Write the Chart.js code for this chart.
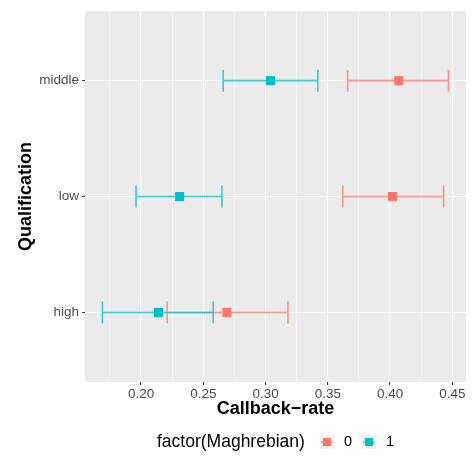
<!DOCTYPE html>
<html>
<head>
<meta charset="utf-8">
<script src="https://cdn.jsdelivr.net/npm/chart.js@4.4.0/dist/chart.umd.min.js"></script>
<style>
  html, body { margin: 0; padding: 0; background: #fff; }
  #wrap { width: 474px; height: 457px; }
</style>
</head>
<body>
<div id="wrap"><canvas id="chart"></canvas></div>
<script>
// callback rates by qualification, with confidence bounds
var qualifications = ['high', 'low', 'middle'];
var groups = ['0', '1'];
var rate0 = [0.269, 0.402, 0.407];
var lower0 = [0.221, 0.362, 0.366];
var upper0 = [0.318, 0.443, 0.447];
var rate1 = [0.214, 0.231, 0.304];
var lower1 = [0.169, 0.196, 0.266];
var upper1 = [0.258, 0.265, 0.342];
var xTicks = [0.175, 0.2, 0.225, 0.25, 0.275, 0.3, 0.325, 0.35, 0.375, 0.4, 0.425, 0.45];
var xLabels = [0.2, 0.25, 0.3, 0.35, 0.4, 0.45];

var red = '#F8766D';
var cyan = '#00BFC4';
var fontFam = '"Liberation Sans", Arial, sans-serif';

function points(rates, lo, hi) {
	var out = [];
	for (var i = 0; i < rates.length; i++) {
		out.push({ x: rates[i], y: i + 1, lo: lo[i], hi: hi[i] });
	}
	return out;
}

function isMajor(v) {
	for (var i = 0; i < xLabels.length; i++) {
		if (Math.abs(xLabels[i] - v) < 1e-6) return true;
	}
	return false;
}

// grey panel behind the grid
var panelBg = {
	id: 'panelBg',
	beforeDraw: function (chart) {
		var a = chart.chartArea;
		var ctx = chart.ctx;
		ctx.save();
		ctx.fillStyle = '#EBEBEB';
		ctx.fillRect(a.left, a.top, a.right - a.left, a.bottom - a.top);
		ctx.restore();
	}
};

// horizontal error bars with end caps
var errorBars = {
	id: 'errorBars',
	beforeDatasetsDraw: function (chart) {
		var ctx = chart.ctx;
		var xs = chart.scales.x, ys = chart.scales.y;
		ctx.save();
		chart.data.datasets.forEach(function (ds) {
			ctx.strokeStyle = ds.barColor;
			ctx.lineWidth = 1.6;
			ds.data.forEach(function (p) {
				var y = ys.getPixelForValue(p.y);
				var x1 = xs.getPixelForValue(p.lo);
				var x2 = xs.getPixelForValue(p.hi);
				ctx.beginPath();
				ctx.moveTo(x1, y); ctx.lineTo(x2, y);
				ctx.moveTo(x1, y - 11); ctx.lineTo(x1, y + 11);
				ctx.moveTo(x2, y - 11); ctx.lineTo(x2, y + 11);
				ctx.stroke();
			});
		});
		ctx.restore();
	}
};

// legend row under the x axis
var bottomLegend = {
	id: 'bottomLegend',
	afterDraw: function (chart) {
		var ctx = chart.ctx;
		var yMid = 442;
		ctx.save();
		ctx.font = '17.5px ' + fontFam;
		ctx.textBaseline = 'middle';
		ctx.fillStyle = '#000';
		ctx.fillText('factor(Maghrebian)', 157, yMid);
		var keyX = [320, 362];
		chart.data.datasets.forEach(function (ds, i) {
			var kx = keyX[i];
			ctx.fillStyle = '#F2F2F2';
			ctx.fillRect(kx, yMid - 7, 14, 14);
			ctx.strokeStyle = ds.barColor;
			ctx.lineWidth = 1.4;
			ctx.beginPath();
			ctx.moveTo(kx + 1, yMid); ctx.lineTo(kx + 13, yMid);
			ctx.stroke();
			ctx.fillStyle = ds.pointBackgroundColor;
			ctx.fillRect(kx + 3, yMid - 4, 8, 8);
			ctx.fillStyle = '#000';
			ctx.font = '14.5px ' + fontFam;
			ctx.fillText(groups[i], kx + 24, yMid);
		});
		ctx.restore();
	}
};

var ctx = document.getElementById('chart').getContext('2d');
var chart = new Chart(ctx, {
	type: 'scatter',
	data: {
		datasets: [{
			label: groups[0],
			data: points(rate0, lower0, upper0),
			pointStyle: 'rect',
			pointRadius: 6.4,
			pointHoverRadius: 6.4,
			pointBackgroundColor: red,
			pointBorderWidth: 0,
			barColor: 'rgba(248,118,109,0.75)'
		}, {
			label: groups[1],
			data: points(rate1, lower1, upper1),
			pointStyle: 'rect',
			pointRadius: 6.4,
			pointHoverRadius: 6.4,
			pointBackgroundColor: cyan,
			pointBorderWidth: 0,
			barColor: 'rgba(0,191,196,0.75)'
		}]
	},
	options: {
		responsive: true,
		maintainAspectRatio: false,
		animation: false,
		events: [],
		layout: { padding: { top: 7, right: 8, left: 0, bottom: 31 } },
		plugins: {
			legend: { display: false },
			tooltip: { enabled: false }
		},
		scales: {
			x: {
				type: 'linear',
				min: 0.155,
				max: 0.461,
				afterBuildTicks: function (scale) {
					scale.ticks = xTicks.map(function (v) { return { value: v }; });
				},
				afterFit: function (scale) { scale.height = 44; },
				border: { display: false },
				grid: {
					color: '#FFFFFF',
					lineWidth: function (c) { return isMajor(c.tick.value) ? 1.1 : 0.55; },
					tickColor: function (c) { return isMajor(c.tick.value) ? '#333333' : 'rgba(0,0,0,0)'; },
					tickLength: 3,
					tickWidth: 1
				},
				ticks: {
					autoSkip: false,
					maxRotation: 0,
					padding: 1,
					color: '#4D4D4D',
					font: { family: fontFam, size: 13.5 },
					callback: function (v) { return isMajor(v) ? v.toFixed(2) : ''; }
				},
				title: {
					display: true,
					text: 'Callback\u2212rate',
					color: '#000',
					padding: { top: 0, bottom: 6 },
					font: { family: fontFam, size: 18, weight: 'bold' }
				}
			},
			y: {
				type: 'linear',
				min: 0.4,
				max: 3.6,
				afterBuildTicks: function (scale) {
					scale.ticks = qualifications.map(function (q, i) { return { value: i + 1 }; });
				},
				afterFit: function (scale) { scale.width = 85; },
				border: { display: false },
				grid: {
					color: '#FFFFFF',
					lineWidth: 1.1,
					tickColor: '#333333',
					tickLength: 3,
					tickWidth: 1
				},
				ticks: {
					autoSkip: false,
					padding: 3,
					color: '#4D4D4D',
					font: { family: fontFam, size: 13.5 },
					callback: function (v) { return qualifications[v - 1]; }
				},
				title: {
					display: true,
					text: 'Qualification',
					color: '#000',
					padding: { top: 15, bottom: 0 },
					font: { family: fontFam, size: 18, weight: 'bold' }
				}
			}
		}
	},
	plugins: [panelBg, errorBars, bottomLegend]
});
</script>
</body>
</html>
